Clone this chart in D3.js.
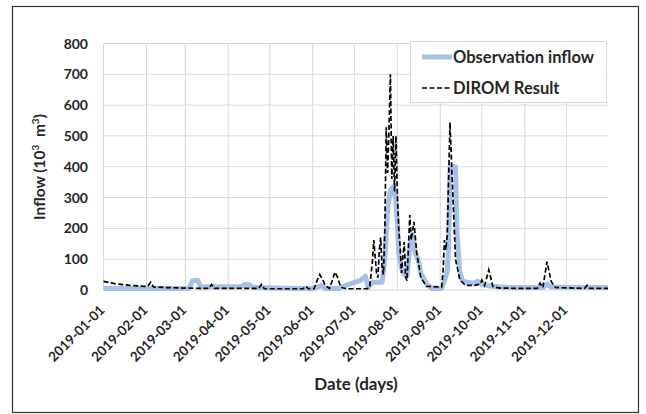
<!DOCTYPE html>
<html>
<head>
<meta charset="utf-8">
<style>
    body { margin: 0; background: #fff; }
    svg { display: block; font-family: Lato, 'Open Sans', sans-serif; }
    .lbl { font-weight: bold; fill: #262626; }
</style>
</head>
<body>
<svg width="646" height="414"></svg>

<script src="https://d3js.org/d3.v7.min.js"></script>
<script>
    let obsDates = ["2019-01-01", "2019-02-20", "2019-03-04", "2019-03-06", "2019-03-10", "2019-03-12",
        "2019-04-10", "2019-04-13", "2019-04-16", "2019-04-19", "2019-05-31", "2019-06-04", "2019-06-07",
        "2019-06-10", "2019-06-20", "2019-06-23", "2019-06-28", "2019-07-01", "2019-07-05", "2019-07-09",
        "2019-07-11", "2019-07-14", "2019-07-21", "2019-07-23", "2019-07-25", "2019-07-27", "2019-07-29",
        "2019-07-31", "2019-08-01", "2019-08-02", "2019-08-04", "2019-08-06", "2019-08-08", "2019-08-10",
        "2019-08-12", "2019-08-14", "2019-08-16", "2019-08-18", "2019-08-22", "2019-08-26", "2019-09-02",
        "2019-09-04", "2019-09-06", "2019-09-07", "2019-09-08", "2019-09-12", "2019-09-13", "2019-09-15",
        "2019-09-17", "2019-09-20", "2019-09-25", "2019-09-28", "2019-10-01", "2019-10-08", "2019-10-20",
        "2019-11-14", "2019-11-17", "2019-11-20", "2019-12-31"]
    let obsValues = [5, 5, 6, 30, 32, 10,
        11, 18, 17, 8, 4, 8, 15,
        5, 5, 12, 20, 25, 30, 45,
        8, 25, 25, 100, 260, 325, 335,
        290, 220, 120, 70, 50, 45, 140,
        180, 120, 100, 55, 20, 5, 5,
        30, 60, 140, 400, 400, 190, 60,
        30, 25, 22, 28, 18, 12, 8,
        8, 20, 10, 8]

    // DIROM model result
    let diromDates = ["2019-01-01", "2019-01-10", "2019-01-20", "2019-01-31", "2019-02-02", "2019-02-04",
        "2019-02-06", "2019-02-15", "2019-03-01", "2019-03-18", "2019-03-20", "2019-03-22", "2019-04-23",
        "2019-04-25", "2019-04-27", "2019-05-25", "2019-05-27", "2019-05-29", "2019-06-02", "2019-06-04",
        "2019-06-06", "2019-06-08", "2019-06-10", "2019-06-13", "2019-06-15", "2019-06-17", "2019-06-19",
        "2019-06-21", "2019-06-25", "2019-07-10", "2019-07-12", "2019-07-14", "2019-07-15", "2019-07-17",
        "2019-07-18", "2019-07-19", "2019-07-20", "2019-07-21", "2019-07-22", "2019-07-23", "2019-07-24",
        "2019-07-25", "2019-07-26", "2019-07-27", "2019-07-28", "2019-07-29", "2019-07-30", "2019-07-31",
        "2019-08-01", "2019-08-02", "2019-08-03", "2019-08-04", "2019-08-06", "2019-08-07", "2019-08-08",
        "2019-08-10", "2019-08-11", "2019-08-13", "2019-08-15", "2019-08-18", "2019-08-22", "2019-09-02",
        "2019-09-03", "2019-09-04", "2019-09-05", "2019-09-06", "2019-09-08", "2019-09-10", "2019-09-12",
        "2019-09-15", "2019-09-19", "2019-09-26", "2019-09-30", "2019-10-01", "2019-10-03", "2019-10-06",
        "2019-10-09", "2019-10-14", "2019-11-10", "2019-11-12", "2019-11-14", "2019-11-17", "2019-11-20",
        "2019-11-23", "2019-12-14", "2019-12-16", "2019-12-18", "2019-12-31"]
    let diromValues = [28, 20, 15, 12, 12, 25,
        10, 8, 6, 5, 18, 5, 5,
        18, 4, 4, 12, 4, 5, 30,
        50, 35, 15, 5, 30, 58, 40,
        10, 4, 4, 8, 90, 162, 55,
        40, 130, 170, 70, 50, 200, 528,
        380, 520, 700, 360, 500, 320, 500,
        313, 200, 140, 55, 156, 40, 30,
        243, 162, 221, 120, 40, 12, 10,
        60, 162, 130, 175, 544, 313, 100,
        35, 15, 15, 20, 32, 15, 65,
        11, 6, 5, 22, 8, 92, 28,
        8, 5, 15, 5, 5]

    let yTicks = [0, 100, 200, 300, 400, 500, 600, 700, 800]
    let monthTicks = ["2019-01-01", "2019-02-01", "2019-03-01", "2019-04-01", "2019-05-01", "2019-06-01",
        "2019-07-01", "2019-08-01", "2019-09-01", "2019-10-01", "2019-11-01", "2019-12-01"]

    let parse = d3.timeParse("%Y-%m-%d")
    let obs = obsDates.map((d, i) => ({ date: parse(d), value: obsValues[i] }))
    let dirom = diromDates.map((d, i) => ({ date: parse(d), value: diromValues[i] }))

    let svg = d3.select("svg")

    let x = d3.scaleTime()
        .domain([parse("2019-01-01"), parse("2019-12-31")])
        .range([103.5, 608])
    let y = d3.scaleLinear()
        .domain([0, 800])
        .range([290, 43.5])

    // outer frame
    svg.append("rect")
        .attr("x", 12.5).attr("y", 6.5)
        .attr("width", 626).attr("height", 406)
        .style("fill", "none")
        .style("stroke", "#333")
        .style("stroke-width", 1.2)

    // gridlines
    svg.append("g")
        .selectAll("line")
        .data(yTicks)
        .join("line")
        .attr("x1", x.range()[0]).attr("x2", x.range()[1])
        .attr("y1", d => y(d)).attr("y2", d => y(d))
        .style("stroke", "#d9d9d9")
        .style("stroke-width", 1)

    svg.append("g")
        .selectAll("line")
        .data(monthTicks)
        .join("line")
        .attr("x1", d => x(parse(d))).attr("x2", d => x(parse(d)))
        .attr("y1", y(0)).attr("y2", y(800))
        .style("stroke", "#d9d9d9")
        .style("stroke-width", 1)

    // y tick labels
    svg.append("g")
        .selectAll("text")
        .data(yTicks)
        .join("text")
        .attr("class", "lbl")
        .attr("x", 88)
        .attr("y", d => y(d))
        .attr("dy", "0.36em")
        .attr("text-anchor", "end")
        .style("font-size", "14px")
        .text(d => d)

    // x tick labels, slanted
    svg.append("g")
        .selectAll("text")
        .data(monthTicks)
        .join("text")
        .attr("class", "lbl")
        .attr("text-anchor", "end")
        .attr("transform", d => "translate(" + (x(parse(d)) + 2) + "," + 311 + ") rotate(-45)")
        .style("font-size", "13.5px")
        .text(d => d)

    let line = d3.line()
        .x(d => x(d.date))
        .y(d => y(d.value))

    svg.append("path")
        .datum(obs)
        .attr("d", line)
        .style("fill", "none")
        .style("stroke", "#a6c1e8")
        .style("stroke-width", 5)
        .style("stroke-linejoin", "round")

    svg.append("path")
        .datum(dirom)
        .attr("d", line)
        .style("fill", "none")
        .style("stroke", "#000")
        .style("stroke-width", 1.7)
        .style("stroke-dasharray", "5,2.5")

    // axis titles
    svg.append("text")
        .attr("class", "lbl")
        .attr("x", 356).attr("y", 390)
        .attr("text-anchor", "middle")
        .style("font-size", "17px")
        .text("Date (days)")

    let yt = svg.append("text")
        .attr("class", "lbl")
        .attr("transform", "translate(45,167) rotate(-90)")
        .attr("text-anchor", "middle")
        .style("font-size", "15.5px")
    yt.append("tspan").text("Inflow (10")
    yt.append("tspan").attr("dy", -6).style("font-size", "10px").text("3")
    yt.append("tspan").attr("dy", 6).text("\u00a0\u00a0m")
    yt.append("tspan").attr("dy", -6).style("font-size", "10px").text("3")
    yt.append("tspan").attr("dy", 6).text(")")

    // legend
    let legend = svg.append("g")
    legend.append("rect")
        .attr("x", 410.5).attr("y", 41.5)
        .attr("width", 196).attr("height", 61)
        .style("fill", "#fff")
        .style("stroke", "#d9d9d9")

    legend.append("line")
        .attr("x1", 422).attr("x2", 452).attr("y1", 57).attr("y2", 57)
        .style("stroke", "#a6c1e8").style("stroke-width", 5)
    legend.append("line")
        .attr("x1", 422).attr("x2", 452).attr("y1", 88).attr("y2", 88)
        .style("stroke", "#000").style("stroke-width", 1.7)
        .style("stroke-dasharray", "5,2.5")

    legend.append("text").attr("class", "lbl")
        .attr("x", 453).attr("y", 57).attr("dy", "0.36em")
        .style("font-size", "16.5px")
        .text("Observation inflow")
    legend.append("text").attr("class", "lbl")
        .attr("x", 453).attr("y", 88).attr("dy", "0.36em")
        .style("font-size", "16.5px")
        .text("DIROM Result")
</script>
</body>
</html>
